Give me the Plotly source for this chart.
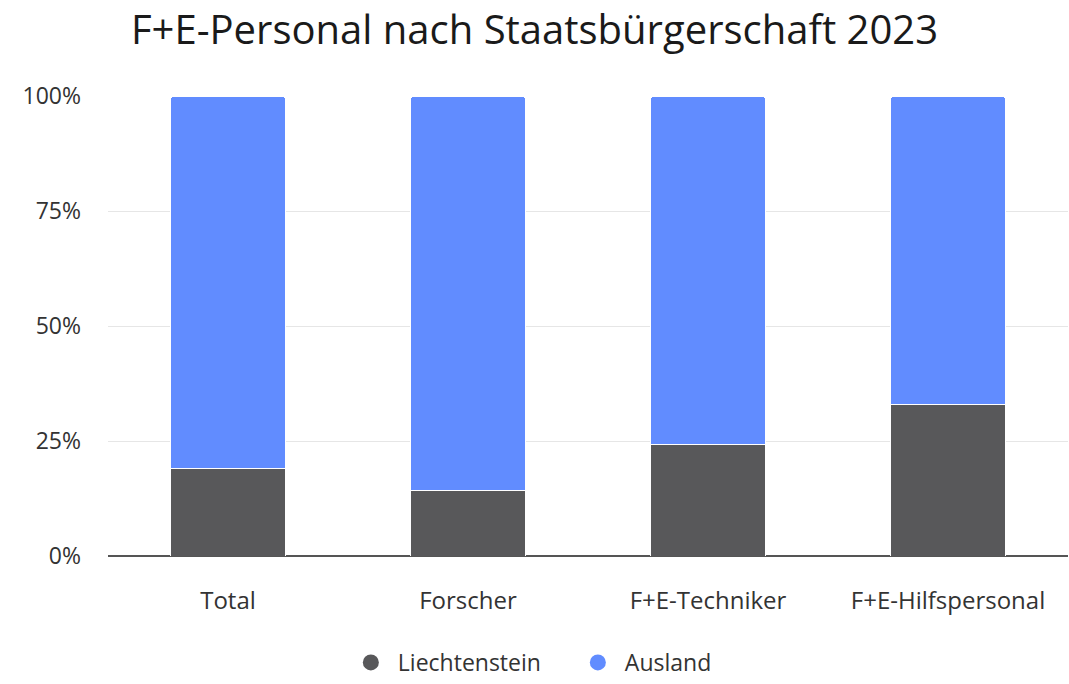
import plotly.graph_objects as go

categories = ["Total", "Forscher", "F+E-Techniker", "F+E-Hilfspersonal"]
liechtenstein = [19.1, 14.2, 24.2, 33.0]
ausland = [80.9, 85.8, 75.8, 67.0]
series_names = ["Liechtenstein", "Ausland"]
colors = ["#58585a", "#618cff"]
y_ticks = [0, 25, 50, 75, 100]
y_tick_labels = ["0%", "25%", "50%", "75%", "100%"]

FONT = "Open Sans, sans-serif"

fig = go.Figure()
for name, vals, col in zip(series_names, [liechtenstein, ausland], colors):
    fig.add_trace(go.Bar(
        x=categories, y=vals, name=name, showlegend=False,
        marker=dict(color=col, line=dict(color="white", width=1)),
        width=0.48, hoverinfo="skip",
    ))
for name, col in zip(series_names, colors):
    fig.add_trace(go.Scatter(
        x=[None], y=[None], mode="markers", name=name,
        marker=dict(color=col, size=24, symbol="circle"),
    ))

fig.update_layout(
    width=1069, height=684,
    barmode="stack",
    barcornerradius=4,
    plot_bgcolor="white", paper_bgcolor="white",
    margin=dict(l=108, r=1, t=96, b=128, autoexpand=False),
    title=dict(text="F+E-Personal nach Staatsbürgerschaft 2023",
               x=0.5, xanchor="center", y=0.956, yanchor="middle",
               font=dict(family=FONT, size=40, color="#1a1a1a")),
    font=dict(family=FONT, color="#333333"),
    legend=dict(orientation="h", xref="container", yref="container",
                x=0.534, xanchor="center", y=0.0, yanchor="bottom",
                font=dict(size=23, color="#333333"), traceorder="normal",
                itemwidth=44, entrywidth=168, entrywidthmode="pixels"),
    xaxis=dict(showgrid=False, ticks="", tickfont=dict(size=24, color="#333333"),
               showline=False, automargin=False, ticklabelstandoff=28),
    yaxis=dict(range=[0, 100], tickvals=y_ticks, ticktext=y_tick_labels,
               showgrid=True, gridcolor="#e6e6e6", gridwidth=1,
               zeroline=True, zerolinecolor="#555555", zerolinewidth=2,
               tickfont=dict(size=23, color="#333333"), ticks="", ticklen=0,
               showline=False, automargin=False, ticklabelstandoff=26),
)

fig.write_html("out.html", config={"displayModeBar": False},
               post_script="document.body.style.margin='0';")
